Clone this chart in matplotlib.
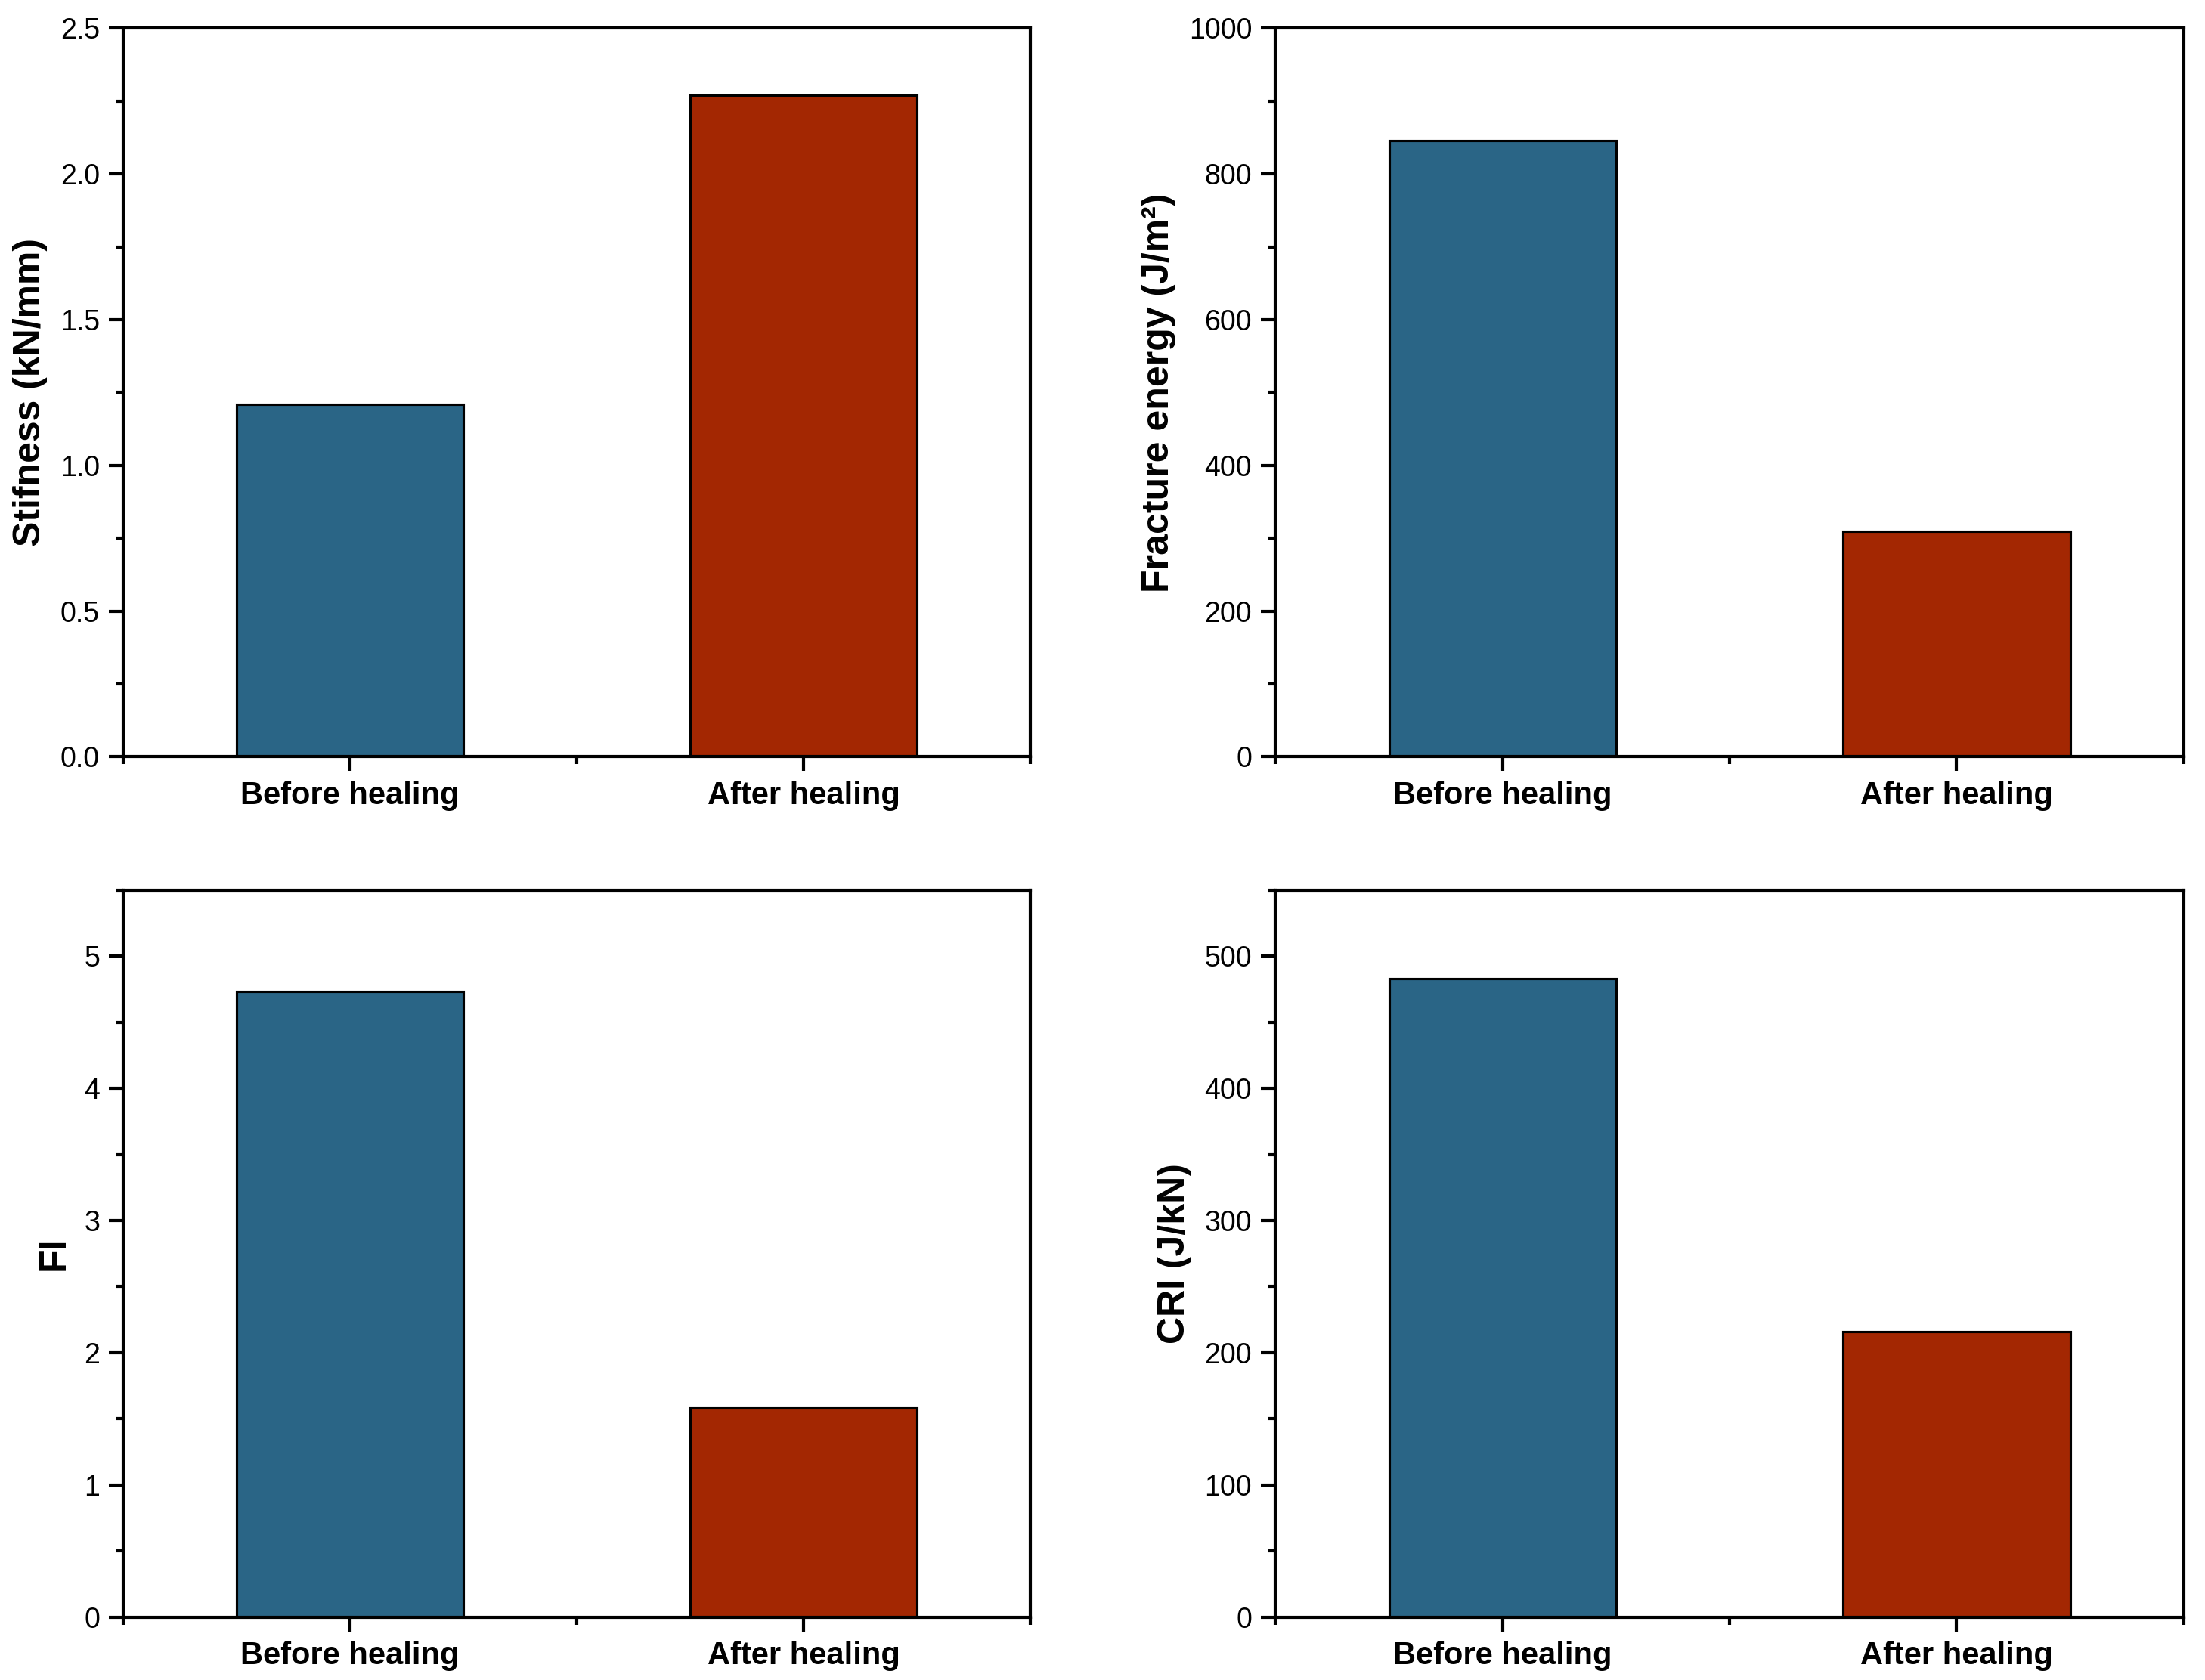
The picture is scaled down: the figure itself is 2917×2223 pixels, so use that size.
import matplotlib
matplotlib.use("Agg")
import matplotlib.pyplot as plt
import numpy as np
from matplotlib.ticker import FixedLocator

plt.rcParams['font.family'] = ['Liberation Sans', 'DejaVu Sans']

# data
categories = ["Before healing", "After healing"]
stiffness = [1.21, 2.27]
fracture_energy = [846, 310]
fi_values = [4.73, 1.58]
cri_values = [483, 216]

bar_colors = ["#2A6586", "#A32702"]

panels = [
    # values, ylabel, ylim, major step, tick format
    (stiffness, "Stifness (kN/mm)", 2.5, 0.5, "{:.1f}"),
    (fracture_energy, "Fracture energy (J/m²)", 1000, 200, "{:.0f}"),
    (fi_values, "FI", 5.5, 1, "{:.0f}"),
    (cri_values, "CRI (J/kN)", 550, 100, "{:.0f}"),
]

# axes boxes in figure fractions [left, bottom, width, height]
boxes = [
    [0.0560, 0.5495, 0.4112, 0.4337],
    [0.5785, 0.5495, 0.4118, 0.4337],
    [0.0560, 0.0375, 0.4112, 0.4327],
    [0.5785, 0.0375, 0.4118, 0.4327],
]

fig = plt.figure(figsize=(2917 / 300, 2223 / 300), dpi=300)

for (vals, ylabel, ymax, step, fmt), box in zip(panels, boxes):
    ax = fig.add_axes(box)
    x = list(range(len(categories)))
    ax.bar(x, vals, width=0.5, color=bar_colors, edgecolor="black",
           linewidth=0.75, zorder=2)

    ax.set_xticks(x)
    ax.set_xticklabels(categories, fontsize=10, fontweight="bold")
    ax.xaxis.set_minor_locator(FixedLocator([-0.5, 0.5, 1.5]))

    ticks = np.arange(0, ymax + 1e-9, step)
    ax.set_yticks(ticks)
    ax.set_yticklabels([fmt.format(t) for t in ticks], fontsize=9)
    ax.yaxis.set_minor_locator(FixedLocator(np.arange(0, ymax + 1e-9, step / 2)))

    ax.set_xlim(-0.5, len(categories) - 0.5)
    ax.set_ylim(0, ymax)

    ax.set_ylabel(ylabel, fontsize=12, fontweight="bold")

    ax.tick_params(which="both", direction="out", top=False, right=False,
                   width=1.0)
    ax.tick_params(which="major", length=4.5, pad=3)
    ax.tick_params(which="minor", length=2.5)
    ax.tick_params(axis="x", which="major", pad=3)

    for sp in ax.spines.values():
        sp.set_linewidth(1.0)
        sp.set_zorder(3)

fig.savefig("out.png", dpi=300)
